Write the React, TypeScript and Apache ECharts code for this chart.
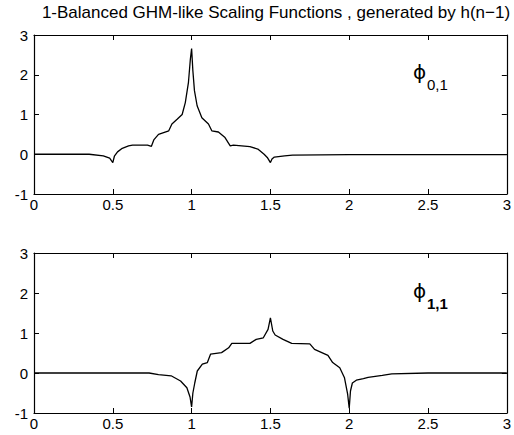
import React, { useEffect, useRef } from "react";
import * as echarts from "echarts";

const titleText = "1-Balanced GHM-like Scaling Functions , generated by h(n\u22121)";

const xTicks = [0, 0.5, 1, 1.5, 2, 2.5, 3];
const yTicks = [-1, 0, 1, 2, 3];

// phi_{0,1}
const phi01X = [0, 0.35, 0.44, 0.48, 0.5, 0.51, 0.53, 0.56, 0.6, 0.625, 0.72, 0.745, 0.76, 0.79, 0.855, 0.875, 0.908, 0.94, 0.96, 0.98, 0.992, 1.0, 1.008, 1.018, 1.035, 1.065, 1.107, 1.128, 1.17, 1.212, 1.245, 1.265, 1.37, 1.42, 1.46, 1.48, 1.5, 1.51, 1.525, 1.59, 1.64, 2, 2.5, 3];
const phi01Y = [0, 0, -0.04, -0.1, -0.21, -0.05, 0.06, 0.15, 0.21, 0.23, 0.23, 0.2, 0.36, 0.5, 0.59, 0.76, 0.88, 1.0, 1.3, 1.81, 2.39, 2.66, 2.1, 1.6, 1.22, 0.92, 0.76, 0.59, 0.56, 0.42, 0.21, 0.23, 0.19, 0.13, 0.0, -0.08, -0.21, -0.12, -0.07, -0.04, -0.02, -0.01, -0.01, -0.01];

// phi_{1,1}
const phi11X = [0, 0.6, 0.73, 0.79, 0.87, 0.93, 0.97, 0.99, 1.0, 1.008, 1.02, 1.036, 1.068, 1.1, 1.12, 1.19, 1.235, 1.255, 1.37, 1.41, 1.455, 1.485, 1.5, 1.515, 1.53, 1.58, 1.635, 1.75, 1.78, 1.865, 1.895, 1.94, 1.97, 1.99, 2.0, 2.008, 2.02, 2.045, 2.09, 2.12, 2.21, 2.27, 2.5, 3];
const phi11Y = [0, 0, 0.0, -0.04, -0.07, -0.2, -0.37, -0.6, -0.85, -0.5, -0.25, 0.05, 0.22, 0.26, 0.47, 0.51, 0.63, 0.74, 0.74, 0.84, 0.88, 1.09, 1.38, 1.05, 0.95, 0.84, 0.74, 0.73, 0.59, 0.44, 0.26, 0.13, -0.12, -0.53, -0.88, -0.45, -0.25, -0.18, -0.14, -0.11, -0.06, -0.02, 0, 0];

const FONT = "Liberation Sans, Arial, Helvetica, sans-serif";
const SYM = "DejaVu Sans, sans-serif";

function pairs(xs: number[], ys: number[]) {
  return xs.map((x, i) => [x, ys[i]]);
}

export default function App() {
  const ref = useRef<HTMLDivElement>(null);
  useEffect(() => {
    if (!ref.current) return;
    const chart = echarts.init(ref.current, null, { renderer: "svg" });
    const axisLine = { show: true, onZero: false, lineStyle: { color: "#000", width: 1.2 } };
    const tick = { show: true, inside: true, length: 5, lineStyle: { color: "#000" } };
    const xBase = (grid: number, pos: "bottom" | "top", labels: boolean) => ({
      type: "value",
      gridIndex: grid,
      position: pos,
      min: xTicks[0],
      max: xTicks[xTicks.length - 1],
      interval: 0.5,
      axisLine,
      axisTick: tick,
      splitLine: { show: false },
      axisLabel: {
        show: labels,
        color: "#000",
        fontFamily: FONT,
        fontSize: 15,
        margin: 3,
      },
    });
    const yBase = (grid: number, pos: "left" | "right", labels: boolean) => ({
      type: "value",
      gridIndex: grid,
      position: pos,
      min: yTicks[0],
      max: yTicks[yTicks.length - 1],
      interval: 1,
      axisLine,
      axisTick: tick,
      splitLine: { show: false },
      axisLabel: {
        show: labels,
        color: "#000",
        fontFamily: FONT,
        fontSize: 15,
        margin: 6,
      },
    });
    chart.setOption({
      animation: false,
      backgroundColor: "#fff",
      grid: [
        { left: 34, top: 35, width: 476, height: 159, show: false },
        { left: 34, top: 253, width: 476, height: 160, show: false },
      ],
      xAxis: [xBase(0, "bottom", true), xBase(0, "top", false), xBase(1, "bottom", true), xBase(1, "top", false)],
      yAxis: [yBase(0, "left", true), yBase(0, "right", false), yBase(1, "left", true), yBase(1, "right", false)],
      series: [
        {
          type: "line",
          xAxisIndex: 0,
          yAxisIndex: 0,
          data: pairs(phi01X, phi01Y),
          showSymbol: false,
          lineStyle: { color: "#000", width: 1.3 },
        },
        {
          type: "line",
          xAxisIndex: 2,
          yAxisIndex: 2,
          data: pairs(phi11X, phi11Y),
          showSymbol: false,
          lineStyle: { color: "#000", width: 1.3 },
        },
      ],
      graphic: [
        {
          type: "text",
          x: 276,
          y: 4,
          style: { text: titleText, fill: "#000", font: `17px ${FONT}`, textAlign: "center" },
        },
        { type: "text", x: 413, y: 62, style: { text: "\u03d5", fill: "#000", font: `20px ${SYM}` } },
        { type: "text", x: 427, y: 77, style: { text: "0,1", fill: "#000", font: `15px ${FONT}` } },
        { type: "text", x: 413, y: 281, style: { text: "\u03d5", fill: "#000", font: `20px ${SYM}` } },
        { type: "text", x: 427, y: 296, style: { text: "1,1", fill: "#000", font: `bold 15px ${FONT}` } },
      ],
    });
    return () => chart.dispose();
  }, []);
  return (
    <div
      ref={ref}
      style={{ position: "fixed", left: 0, top: 0, width: 514, height: 435, background: "#fff" }}
    />
  );
}
